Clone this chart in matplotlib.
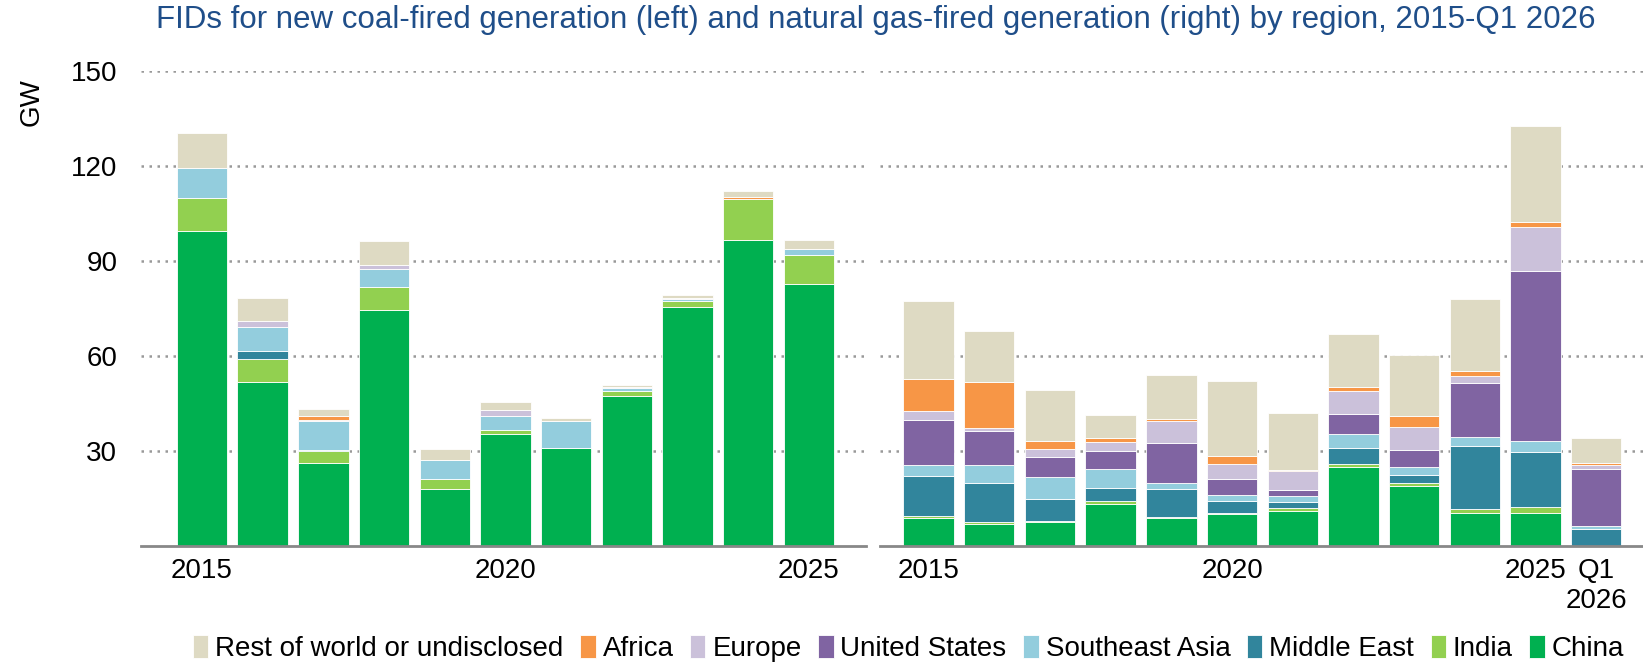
import numpy as np
import matplotlib
matplotlib.use("Agg")
import matplotlib.pyplot as plt

plt.rcParams['font.family'] = ['Liberation Sans', 'DejaVu Sans']

# regions, bottom to top in the stack
regions = ['China', 'India', 'Middle East', 'Southeast Asia', 'United States',
           'Europe', 'Africa', 'Rest of world or undisclosed']
colors = ['#00B050', '#92D050', '#31859C', '#93CDDD', '#8064A2',
          '#CBC1DA', '#F79646', '#DEDAC3']

# coal-fired FIDs (GW), 2015-2025
coal_labels = ['2015', '', '', '', '', '2020', '', '', '', '', '2025']
coal_china = [99.5, 51.8, 26.1, 74.5, 18.0, 35.4, 30.9, 47.4, 75.5, 96.6, 82.7]
coal_india = [10.3, 7.2, 3.8, 7.3, 3.2, 1.2, 0.0, 1.5, 2.0, 13.0, 9.2]
coal_me = [0.0, 2.5, 0.4, 0.0, 0.0, 0.0, 0.0, 0.0, 0.0, 0.0, 0.0]
coal_sea = [9.7, 7.8, 9.0, 5.6, 6.0, 4.5, 8.4, 1.0, 0.6, 0.0, 1.8]
coal_us = [0.0] * 11
coal_europe = [0.0, 1.7, 0.5, 1.3, 0.0, 1.7, 0.0, 0.3, 0.3, 0.0, 0.0]
coal_africa = [0.0, 0.0, 1.1, 0.0, 0.0, 0.0, 0.0, 0.0, 0.0, 0.8, 0.0]
coal_row = [11.0, 7.2, 2.2, 7.5, 3.4, 2.6, 1.0, 0.6, 0.8, 1.7, 2.8]

# gas-fired FIDs (GW), 2015-2025 and Q1 2026
gas_labels = ['2015', '', '', '', '', '2020', '', '', '', '', '2025', 'Q1\n2026']
gas_china = [8.7, 7.0, 7.6, 13.3, 8.8, 10.0, 11.1, 25.0, 18.9, 10.3, 10.4, 0.0]
gas_india = [0.8, 0.4, 0.1, 0.8, 0.3, 0.2, 0.8, 0.8, 1.0, 1.4, 1.7, 0.0]
gas_me = [12.4, 12.4, 7.1, 4.0, 8.9, 3.8, 2.0, 5.0, 2.6, 19.7, 17.5, 5.4]
gas_sea = [3.6, 5.6, 6.8, 6.2, 1.8, 1.9, 1.7, 4.5, 2.4, 2.9, 3.6, 0.7]
gas_us = [14.3, 10.9, 6.5, 5.6, 12.6, 5.2, 2.0, 6.3, 5.5, 17.2, 53.8, 18.3]
gas_europe = [2.9, 0.9, 2.5, 2.9, 7.0, 4.7, 5.9, 7.2, 7.0, 2.0, 13.9, 1.2]
gas_africa = [10.0, 14.5, 2.6, 1.4, 0.6, 2.5, 0.4, 1.3, 3.6, 1.6, 1.5, 0.5]
gas_row = [24.8, 16.1, 16.1, 7.0, 13.9, 23.7, 17.9, 16.8, 19.3, 22.8, 30.4, 7.8]

coal = [coal_china, coal_india, coal_me, coal_sea, coal_us, coal_europe, coal_africa, coal_row]
gas = [gas_china, gas_india, gas_me, gas_sea, gas_us, gas_europe, gas_africa, gas_row]

fig = plt.figure(figsize=(16.43, 6.65), dpi=100)
ax1 = fig.add_axes([0.0858, 0.1794, 0.4413, 0.7134])
ax2 = fig.add_axes([0.5356, 0.1794, 0.4644, 0.7134])


def draw_panel(ax, series, labels, xlim):
    x = np.arange(len(labels))
    bottom = np.zeros(len(labels))
    for vals, col, name in zip(series, colors, regions):
        vals = np.array(vals)
        ax.bar(x, vals, bottom=bottom, width=0.83, color=col,
               edgecolor='white', linewidth=0.6, label=name, zorder=3)
        bottom += vals
    ax.set_xlim(*xlim)
    ax.set_ylim(0, 150)
    ax.set_yticks([30, 60, 90, 120, 150])
    ax.yaxis.grid(True, linestyle=(0, (1, 2.2)), color='#999999', linewidth=1.8, zorder=0)
    ax.set_xticks(x)
    ax.set_xticklabels(labels, fontsize=20)
    ax.tick_params(axis='both', length=0)
    ax.tick_params(axis='x', pad=9)
    ax.tick_params(axis='y', pad=17, labelsize=20)
    for s in ['top', 'right', 'left']:
        ax.spines[s].set_visible(False)
    ax.spines['bottom'].set_color('#888888')
    ax.spines['bottom'].set_linewidth(2)
    ax.spines['bottom'].set_zorder(4)


draw_panel(ax1, coal, coal_labels, (-1.005, 10.94))
draw_panel(ax2, gas, gas_labels, (-0.80, 11.77))
ax2.set_yticklabels([])

fig.text(0.019, 0.847, 'GW', rotation=90, fontsize=20, ha='center', va='center')
fig.text(0.533, 0.97, 'FIDs for new coal-fired generation (left) and natural gas-fired '
         'generation (right) by region, 2015-Q1 2026',
         fontsize=22.5, color='#1F4E89', ha='center', va='center')

handles, names = ax1.get_legend_handles_labels()
fig.legend(handles[::-1], names[::-1], loc='center', bbox_to_anchor=(0.553, 0.025),
           ncol=8, frameon=False, fontsize=20, handlelength=0.55, handleheight=0.9,
           handletextpad=0.25, columnspacing=0.6, borderaxespad=0)

fig.savefig('out.png', dpi=100)
